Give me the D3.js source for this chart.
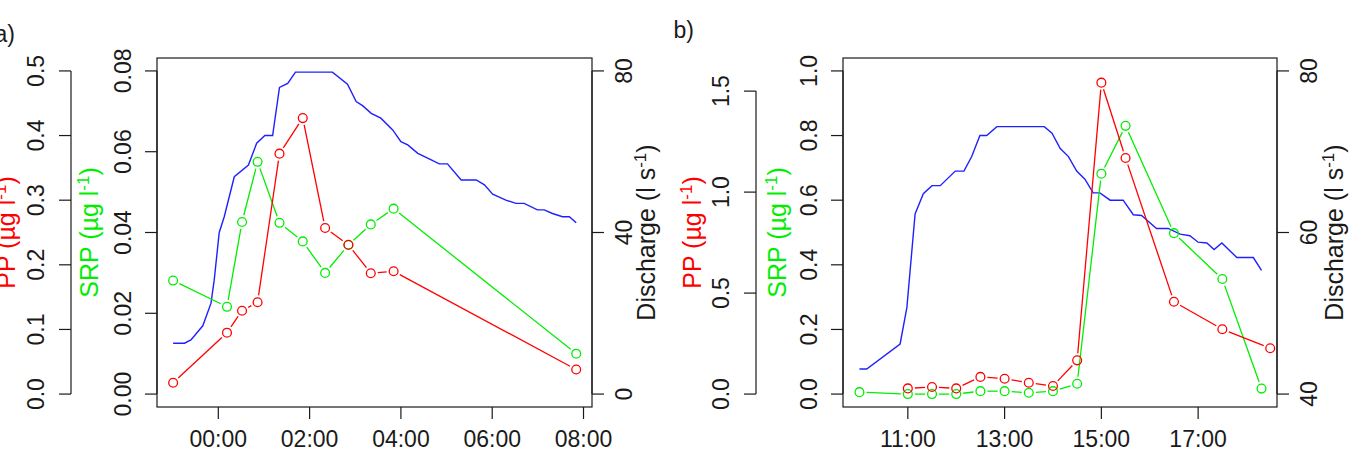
<!DOCTYPE html>
<html>
<head>
<meta charset="utf-8">
<script src="https://cdn.jsdelivr.net/npm/d3@7"></script>
<style>
  html, body { margin: 0; padding: 0; background: #fff; }
  svg { display: block; font-family: 'Liberation Sans', Arial, sans-serif; }
</style>
</head>
<body>
<svg id="chart" width="1353" height="459"></svg>
<script>
// Two-panel event plot: PP (red), SRP (green) as points+lines, discharge (blue) line.
// Hours are decimal hours of the day (negative = before midnight).

// --- panel a) ---
const chemTimeA = [-0.99, 0.19, 0.52, 0.86, 1.34, 1.85, 2.34, 2.85, 3.34, 3.84, 7.84];
const ppA  = [0.0175, 0.095, 0.129, 0.142, 0.372, 0.427, 0.257, 0.231, 0.187, 0.190, 0.038];
const srpA = [0.0281, 0.0216, 0.0426, 0.0575, 0.0424, 0.0378, 0.030, 0.0369, 0.042, 0.0459, 0.010];
const qTimeA = [-0.99, -0.74, -0.60, -0.34, -0.16, -0.09, 0.02, 0.13, 0.35, 0.66, 0.84, 1.02, 1.19,
  1.34, 1.52, 1.69, 2.50, 2.83, 3.02, 3.16, 3.35, 3.56, 3.82, 4.00, 4.15, 4.37, 4.62, 4.84, 5.02,
  5.32, 5.65, 5.83, 6.01, 6.30, 6.52, 6.70, 6.99, 7.14, 7.32, 7.54, 7.69, 7.84];
const qA = [12.6, 12.6, 13.4, 16.9, 22.5, 28.2, 40.0, 43.9, 53.8, 56.7, 62.1, 64.0, 64.0,
  75.9, 76.9, 79.7, 79.7, 76.7, 72.4, 71.4, 69.5, 68.3, 65.4, 62.5, 61.7, 59.6, 58.2, 57.0, 57.0,
  53.0, 53.0, 51.8, 49.5, 48.0, 47.2, 47.2, 45.6, 45.6, 44.7, 43.9, 43.9, 42.4];
const xTicksA = [0, 2, 4, 6, 8];
const xLabelsA = ['00:00', '02:00', '04:00', '06:00', '08:00'];
const ppTicksA = [0, 0.1, 0.2, 0.3, 0.4, 0.5];
const srpTicksA = [0, 0.02, 0.04, 0.06, 0.08];
const qTicksA = [0, 40, 80];

// --- panel b) ---
const ppTimeB = [11.0, 11.5, 12.0, 12.5, 13.0, 13.5, 14.0, 14.5, 15.0, 15.5, 16.5, 17.5, 18.49];
const ppB = [0.028, 0.035, 0.028, 0.085, 0.076, 0.056, 0.040, 0.167, 1.542, 1.169, 0.457, 0.321, 0.227];
const srpTimeB = [10.0, 11.0, 11.5, 12.0, 12.5, 13.0, 13.5, 14.0, 14.5, 15.0, 15.5, 16.5, 17.5, 18.31];
const srpB = [0.006, 0.0, 0.0, 0.0, 0.009, 0.009, 0.004, 0.009, 0.032, 0.682, 0.830, 0.498, 0.356, 0.017];
const qTimeB = [10.0, 10.15, 10.84, 10.98, 11.15, 11.32, 11.50, 11.67, 11.98, 12.16, 12.32, 12.49, 12.63,
  12.84, 13.82, 13.98, 14.15, 14.32, 14.49, 14.66, 14.83, 14.97, 15.18, 15.45, 15.66, 15.83, 16.14,
  16.38, 16.63, 16.83, 17.0, 17.18, 17.33, 17.49, 17.80, 18.14, 18.31];
const qB = [43.1, 43.1, 46.2, 50.7, 62.3, 64.8, 65.8, 65.8, 67.6, 67.6, 69.4, 72.0, 72.0,
  73.1, 73.1, 72.3, 70.4, 69.4, 67.6, 66.6, 64.9, 64.9, 64.0, 64.0, 62.2, 62.1, 60.5,
  60.5, 59.8, 59.6, 58.8, 58.7, 57.9, 58.7, 56.9, 56.9, 55.3];
const xTicksB = [11, 13, 15, 17];
const xLabelsB = ['11:00', '13:00', '15:00', '17:00'];
const ppTicksB = [0, 0.5, 1.0, 1.5];
const srpTicksB = [0, 0.2, 0.4, 0.6, 0.8, 1.0];
const qTicksB = [40, 60, 80];

const RED = '#ff0000', GREEN = '#00ee00', BLUE = '#2020ff', INK = '#1a1a1a';
const FS = 23;          // tick label font size
const FS_LAB = 25;      // axis title font size
const TCL = 12;         // tick length
const GAP = 7;          // type="b" gap around points
const R_PT = 4.4;

const svg = d3.select('#chart');

// R adds 4% padding on each side of the ylim
function padded(lo, hi) { const p = (hi - lo) * 0.04; return [lo - p, hi + p]; }

function unitLabel(sel, name, color) {
  sel.attr('fill', color).attr('font-size', FS_LAB);
  sel.append('tspan').text(name + ' (');
  if (name !== 'Discharge') sel.append('tspan').text('\u00b5g l');
  else sel.append('tspan').text('l s');
  sel.append('tspan').attr('dy', -9).attr('font-size', FS_LAB * 0.68).text('-1');
  sel.append('tspan').attr('dy', 9).text(')');
}

function vAxis(g, x, scale, ticks, fmt, side, labelOff) {
  const dir = side === 'left' ? -1 : 1;
  const [y0, y1] = [scale(ticks[0]), scale(ticks[ticks.length - 1])];
  g.append('line').attr('x1', x).attr('x2', x).attr('y1', y0).attr('y2', y1)
    .attr('stroke', INK).attr('stroke-width', 1.2);
  ticks.forEach(t => {
    const y = scale(t);
    g.append('line').attr('x1', x).attr('x2', x + dir * TCL).attr('y1', y).attr('y2', y)
      .attr('stroke', INK).attr('stroke-width', 1.2);
    g.append('text')
      .attr('transform', `translate(${x + dir * labelOff},${y}) rotate(-90)`)
      .attr('text-anchor', 'middle').attr('font-size', FS).attr('fill', INK)
      .text(fmt(t));
  });
}

function typeB(g, xs, ys, color) {
  const pts = xs.map((x, i) => [x, ys[i]]);
  for (let i = 0; i < pts.length - 1; i++) {
    const [ax, ay] = pts[i], [bx, by] = pts[i + 1];
    const d = Math.hypot(bx - ax, by - ay);
    if (d <= 2 * GAP) continue;
    const ux = (bx - ax) / d, uy = (by - ay) / d;
    g.append('line')
      .attr('x1', ax + ux * GAP).attr('y1', ay + uy * GAP)
      .attr('x2', bx - ux * GAP).attr('y2', by - uy * GAP)
      .attr('stroke', color).attr('stroke-width', 1.3);
  }
  g.selectAll(null).data(pts).enter().append('circle')
    .attr('cx', d => d[0]).attr('cy', d => d[1]).attr('r', R_PT)
    .attr('fill', 'none').attr('stroke', color).attr('stroke-width', 1.3);
}

function drawPanel(c) {
  const g = svg.append('g');
  const x = d3.scaleLinear().domain(c.xDomain).range([c.box.x0, c.box.x1]);
  const ySrp = d3.scaleLinear().domain(padded(0, c.srpMax)).range([c.box.y1, c.box.y0]);
  const yPp = d3.scaleLinear().domain(padded(0, c.ppMax)).range([c.box.y1, c.box.y0]);
  const yQ = d3.scaleLinear().domain(padded(c.qMin, c.qMax)).range([c.box.y1, c.box.y0]);
  const midY = (c.box.y0 + c.box.y1) / 2;

  // discharge line
  g.append('path')
    .datum(c.qTime.map((t, i) => [t, c.q[i]]))
    .attr('d', d3.line().x(d => x(d[0])).y(d => yQ(d[1])))
    .attr('fill', 'none').attr('stroke', BLUE).attr('stroke-width', 1.4);

  typeB(g, c.srpTime.map(x), c.srp.map(ySrp), GREEN);
  typeB(g, c.ppTime.map(x), c.pp.map(yPp), RED);

  // box
  g.append('rect').attr('x', c.box.x0).attr('y', c.box.y0)
    .attr('width', c.box.x1 - c.box.x0).attr('height', c.box.y1 - c.box.y0)
    .attr('fill', 'none').attr('stroke', INK).attr('stroke-width', 1.2);

  // x axis
  const xAx = g.append('g');
  c.xTicks.forEach((t, i) => {
    xAx.append('line').attr('x1', x(t)).attr('x2', x(t))
      .attr('y1', c.box.y1).attr('y2', c.box.y1 + TCL)
      .attr('stroke', INK).attr('stroke-width', 1.2);
    xAx.append('text').attr('x', x(t)).attr('y', 447)
      .attr('text-anchor', 'middle').attr('font-size', FS).attr('fill', INK)
      .text(c.xLabels[i]);
  });

  // SRP axis on the box, PP axis further left, discharge on the right
  vAxis(g, c.box.x0, ySrp, c.srpTicks, c.srpFmt, 'left', 26);
  vAxis(g, c.ppAxisX, yPp, c.ppTicks, c.ppFmt, 'left', 27);
  vAxis(g, c.box.x1, yQ, c.qTicks, d3.format('d'), 'right', 40);

  unitLabel(g.append('text').attr('text-anchor', 'middle')
    .attr('transform', `translate(${c.ppTitleX},${midY}) rotate(-90)`), 'PP', RED);
  unitLabel(g.append('text').attr('text-anchor', 'middle')
    .attr('transform', `translate(${c.srpTitleX},${midY}) rotate(-90)`), 'SRP', GREEN);
  unitLabel(g.append('text').attr('text-anchor', 'middle')
    .attr('transform', `translate(${c.qTitleX},${midY}) rotate(-90)`), 'Discharge', INK);

  g.append('text').attr('x', c.tagX).attr('y', c.tagY).attr('text-anchor', 'end')
    .attr('font-size', FS).attr('fill', INK).text(c.tag);
}

drawPanel({
  tag: 'a)', tagX: 15, tagY: 42,
  box: { x0: 157, x1: 592, y0: 58, y1: 407 },
  xDomain: [-1.343, 8.186],
  ppTime: chemTimeA, srpTime: chemTimeA,
  pp: ppA, srp: srpA, qTime: qTimeA, q: qA,
  ppMax: 0.5, srpMax: 0.08, qMin: 0, qMax: 80,
  xTicks: xTicksA, xLabels: xLabelsA,
  ppTicks: ppTicksA, srpTicks: srpTicksA, qTicks: qTicksA,
  ppFmt: d3.format('.1f'), srpFmt: d3.format('.2f'),
  ppAxisX: 71, ppTitleX: 15, srpTitleX: 98, qTitleX: 655,
});

drawPanel({
  tag: 'b)', tagX: 694, tagY: 38,
  box: { x0: 843, x1: 1277, y0: 58, y1: 407 },
  xDomain: [9.66, 18.63],
  ppTime: ppTimeB, srpTime: srpTimeB,
  pp: ppB, srp: srpB, qTime: qTimeB, q: qB,
  ppMax: 1.6, srpMax: 1.0, qMin: 40, qMax: 80,
  xTicks: xTicksB, xLabels: xLabelsB,
  ppTicks: ppTicksB, srpTicks: srpTicksB, qTicks: qTicksB,
  ppFmt: d3.format('.1f'), srpFmt: d3.format('.1f'),
  ppAxisX: 756, ppTitleX: 701, srpTitleX: 786, qTitleX: 1343,
});
</script>
</body>
</html>
